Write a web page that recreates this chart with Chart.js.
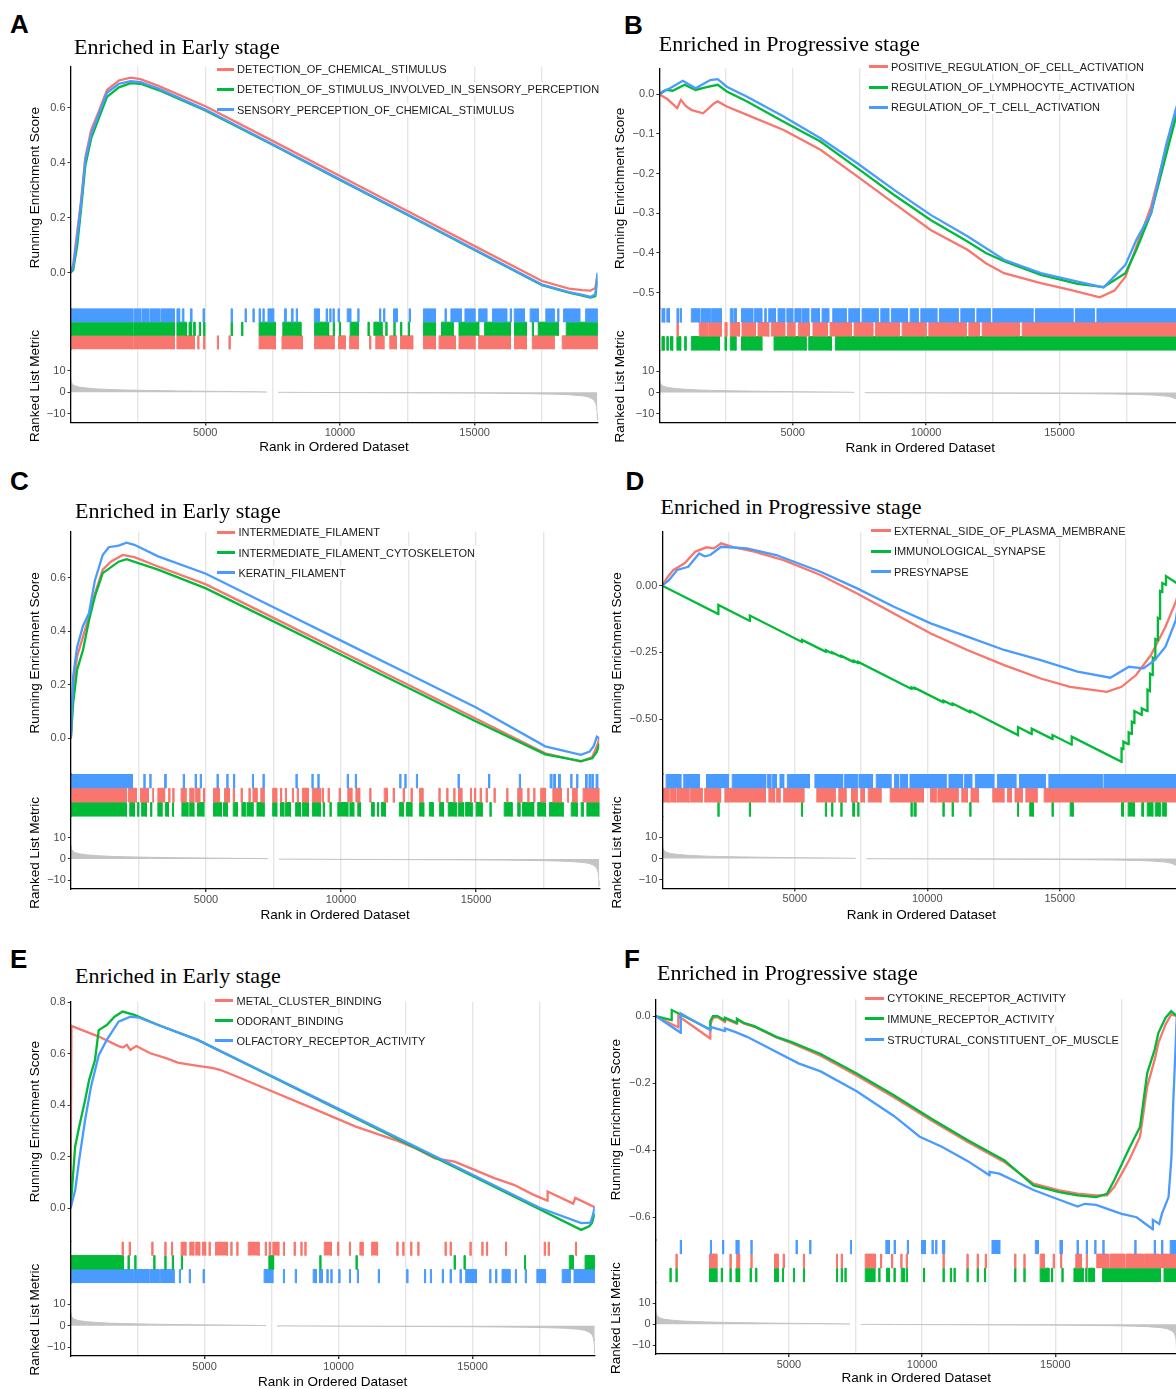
<!DOCTYPE html>
<html><head><meta charset="utf-8">
<script src="https://cdn.jsdelivr.net/npm/chart.js@4.4.1/dist/chart.umd.min.js"></script>
<style>
html,body{margin:0;padding:0;background:#fff;}
body{width:1176px;height:1389px;overflow:hidden;position:relative;font-family:"Liberation Sans",Arial,sans-serif;}
canvas{position:absolute;z-index:1;}
.letter{position:absolute;font-weight:bold;font-size:26px;line-height:26px;color:#000;z-index:2;}
.title{position:absolute;font-family:"Liberation Serif","Times New Roman",serif;font-size:22px;line-height:22px;color:#000;white-space:nowrap;z-index:2;}
.legtxt{position:absolute;font-size:11px;line-height:14px;height:14px;color:#1a1a1a;white-space:nowrap;z-index:3;background:#fff;padding-right:2px;}
.legkey{position:absolute;height:3px;z-index:3;}
</style></head><body>
<script>
// ---------- shared data ----------
const N_GENES = 19560;
const xTickValues = [5000, 10000, 15000];
const xTickLabels = ['5000', '10000', '15000'];
const xGridValues = [2500, 5000, 7500, 10000, 12500, 15000, 17500];
const metricTicks = [-10, 0, 10];
const metricTickLabels = ['\u221210', '0', '10'];
const metricRank  = [0, 30, 80, 150, 300, 600, 1000, 1500, 2000, 3000, 4000, 5000, 6000, 7000, 7300, 7400, 7650, 7700, 9000, 11000, 13000, 15000, 16000, 17000, 18000, 18500, 19000, 19200, 19350, 19450, 19500, 19530, 19550, 19560];
const metricValue = [6.5, 4.5, 3.6, 3.0, 2.4, 1.9, 1.5, 1.2, 1.0, 0.75, 0.55, 0.42, 0.3, 0.15, 0.06, null, null, -0.08, -0.15, -0.25, -0.35, -0.45, -0.55, -0.7, -0.95, -1.2, -1.7, -2.2, -3, -4, -5.5, -7, -10, -13];
const setColors = ['#F8766D', '#00BA38', '#4A9BFF'];

// ---------- panel A ----------
const namesA = ['DETECTION_OF_CHEMICAL_STIMULUS', 'DETECTION_OF_STIMULUS_INVOLVED_IN_SENSORY_PERCEPTION', 'SENSORY_PERCEPTION_OF_CHEMICAL_STIMULUS'];
const esTicksA = [0, 0.2, 0.4, 0.6];
const esLabelsA = ['0.0', '0.2', '0.4', '0.6'];
const esA1 = [[0,0],[100,0.03],[250,0.15],[400,0.27],[550,0.42],[770,0.52],[1060,0.59],[1355,0.665],[1795,0.70],[2236,0.71],[2600,0.705],[3264,0.68],[5025,0.605],[7500,0.48],[10000,0.352],[12500,0.225],[15000,0.097],[17500,-0.03],[18500,-0.058],[19000,-0.063],[19300,-0.065],[19480,-0.055],[19560,-0.01]];
const esA2 = [[0,0],[100,0.01],[250,0.1],[400,0.24],[550,0.39],[770,0.49],[1060,0.565],[1355,0.64],[1795,0.675],[2236,0.69],[2600,0.688],[3264,0.665],[5025,0.59],[7500,0.466],[10000,0.338],[12500,0.211],[15000,0.083],[17500,-0.045],[18500,-0.072],[19000,-0.083],[19300,-0.09],[19480,-0.085],[19560,-0.03]];
const esA3 = [[0,0],[100,0.02],[250,0.13],[400,0.26],[550,0.41],[770,0.505],[1060,0.58],[1355,0.655],[1795,0.688],[2236,0.697],[2600,0.694],[3264,0.67],[5025,0.593],[7500,0.468],[10000,0.34],[12500,0.213],[15000,0.085],[17500,-0.043],[18500,-0.07],[19000,-0.08],[19300,-0.088],[19480,-0.078],[19560,0.0]];
const hitsA1 = [[0,2310],[2350,3850],[3950,4600],[4720,4760],[4940,4980],[5450,5490],[5880,5920],[7000,7600],[7850,8600],[9060,9780],[9950,10200],[10360,10680],[11100,11140],[11330,11630],[11850,12100],[12250,12700],[13100,13540],[13680,14280],[14420,15010],[15150,16330],[16480,16920],[17140,17950],[18250,19560]];
const hitsA2 = [[0,2310],[2350,3850],[3950,4300],[4400,4480],[4560,4620],[4780,4820],[4940,4980],[5960,6000],[6350,6390],[7000,7600],[7880,8550],[9060,9580],[9750,9790],[9980,10020],[10380,10680],[11040,11080],[11260,11560],[11700,11740],[12000,12040],[12250,12290],[12540,12580],[13100,13540],[13770,14200],[14420,15150],[15370,16330],[16480,16920],[17140,17180],[17360,18100],[18400,19560]];
const hitsA3 = [[0,2310],[2360,2600],[2650,2900],[2950,3300],[3350,3850],[3950,4050],[4150,4200],[4450,4500],[4920,4970],[5960,6000],[6480,6520],[6770,6810],[7000,7040],[7140,7180],[7330,7540],[7940,8000],[8200,8250],[8380,8420],[9050,9230],[9490,9530],[9620,9660],[9740,9780],[9930,9970],[10270,10400],[10660,10700],[11470,11510],[11620,11660],[11990,12130],[12570,12610],[13100,13540],[13900,13940],[14120,14500],[14640,15010],[15150,15450],[15660,16190],[16320,16360],[16470,16850],[17060,17360],[17640,17950],[18080,18120],[18300,18900],[19120,19560]];

// ---------- panel B ----------
const namesB = ['POSITIVE_REGULATION_OF_CELL_ACTIVATION', 'REGULATION_OF_LYMPHOCYTE_ACTIVATION', 'REGULATION_OF_T_CELL_ACTIVATION'];
const esTicksB = [-0.5, -0.4, -0.3, -0.2, -0.1, 0];
const esLabelsB = ['\u22120.5', '\u22120.4', '\u22120.3', '\u22120.2', '\u22120.1', '0.0'];
const esB1 = [[0,0],[300,-0.012],[670,-0.035],[810,-0.014],[1000,-0.03],[1220,-0.04],[1640,-0.048],[2050,-0.023],[2190,-0.018],[2530,-0.031],[3290,-0.052],[4660,-0.09],[6040,-0.14],[7420,-0.207],[8800,-0.275],[10170,-0.342],[11550,-0.392],[12240,-0.426],[12920,-0.451],[14300,-0.476],[15400,-0.493],[16510,-0.512],[17060,-0.495],[17470,-0.46],[17880,-0.384],[18430,-0.283],[18980,-0.14],[19370,-0.04],[19560,0]];
const esB2 = [[0,0],[260,0.011],[500,0.009],[950,0.024],[1360,0.011],[1770,0.018],[2190,0.024],[2530,0.007],[3290,-0.018],[4660,-0.069],[6040,-0.119],[7420,-0.186],[8800,-0.254],[10170,-0.317],[11550,-0.371],[12240,-0.4],[12920,-0.421],[14300,-0.455],[15680,-0.478],[16650,-0.486],[17470,-0.451],[17880,-0.392],[18430,-0.3],[18980,-0.157],[19370,-0.056],[19560,0]];
const esB3 = [[0,0],[120,0.007],[400,0.015],[880,0.034],[1360,0.015],[1910,0.036],[2190,0.038],[2530,0.019],[3290,-0.006],[4660,-0.056],[6040,-0.111],[7420,-0.174],[8800,-0.241],[10170,-0.304],[11550,-0.358],[12920,-0.417],[14300,-0.451],[15680,-0.472],[16650,-0.487],[17470,-0.43],[17880,-0.367],[18430,-0.3],[18980,-0.132],[19370,-0.035],[19560,0]];
const hitsB1 = [[660,720],[1500,1800],[1850,2320],[2460,2530],[2660,3000],[3100,3600],[3700,4100],[4200,4700],[4800,5080],[5210,5620],[5760,6300],[6400,7200],[7300,8000],[8100,9000],[9100,10000],[10100,11500],[11600,12000],[12100,13500],[13600,19560]];
const hitsB2 = [[100,180],[280,330],[420,500],[660,800],[950,1000],[1200,2250],[2460,2520],[2660,2870],[3080,3840],[4300,5500],[5600,6450],[6600,19560]];
const hitsB3 = [[100,200],[280,380],[660,720],[780,820],[1200,1500],[1560,1900],[1950,2320],[2660,2750],[2800,2880],[3080,3500],[3560,3840],[3950,4000],[4100,4350],[4450,4700],[4780,5000],[5080,5300],[5350,5600],[5700,6000],[6100,6350],[6500,7000],[7100,7500],[7600,8200],[8300,8600],[8700,9300],[9400,9700],[9800,10400],[10500,11200],[11300,11800],[11900,12400],[12500,14000],[14100,15500],[15600,16300],[16400,19560]];

// ---------- panel C ----------
const namesC = ['INTERMEDIATE_FILAMENT', 'INTERMEDIATE_FILAMENT_CYTOSKELETON', 'KERATIN_FILAMENT'];
const esTicksC = [0, 0.2, 0.4, 0.6];
const esLabelsC = ['0.0', '0.2', '0.4', '0.6'];
const esC1 = [[0,0],[85,0.19],[230,0.305],[450,0.38],[670,0.455],[890,0.54],[1180,0.63],[1480,0.66],[1920,0.685],[2350,0.677],[3230,0.642],[5000,0.575],[7500,0.45],[10000,0.324],[12500,0.199],[15000,0.073],[17560,-0.056],[18880,-0.087],[19300,-0.07],[19470,-0.03],[19560,0.0]];
const esC2 = [[0,0],[85,0.13],[230,0.255],[450,0.33],[670,0.44],[890,0.53],[1180,0.617],[1770,0.66],[2060,0.669],[3230,0.63],[5000,0.56],[7500,0.437],[10000,0.312],[12500,0.188],[15000,0.063],[17560,-0.06],[18880,-0.085],[19300,-0.075],[19470,-0.05],[19560,-0.02]];
const esC3 = [[0,0],[85,0.23],[230,0.34],[450,0.42],[670,0.467],[890,0.59],[1180,0.685],[1400,0.714],[1770,0.72],[2060,0.731],[2350,0.723],[3230,0.68],[5000,0.615],[7500,0.49],[10000,0.365],[12500,0.24],[15000,0.115],[17560,-0.03],[18880,-0.062],[19200,-0.05],[19350,-0.03],[19470,0.006],[19560,0.0]];
const hitsC1 = [[0,2060],[2130,2430],[2580,2870],[3030,3060],[3220,3470],[3620,3660],[3770,3810],[4080,4260],[4400,4550],[4620,4770],[4910,4950],[5280,5500],[5690,5870],[6010,6050],[6300,6340],[6590,6630],[6740,6890],[7030,7150],[7470,7620],[7760,7800],[7940,7980],[8200,8240],[8380,8420],[8570,8790],[8940,9230],[9300,9340],[9520,9560],[9930,9970],[10250,10400],[10550,10690],[11060,11100],[11600,11720],[11930,11970],[12300,12340],[12590,12630],[12910,13030],[13620,13660],[13910,13950],[14170,14210],[14350,14470],[14790,14830],[14940,14980],[15150,15190],[15370,15410],[15660,15700],[16130,16170],[16540,16690],[16910,16950],[17130,17170],[17390,17570],[17840,18160],[18380,18420],[18570,18730],[18960,19560]];
const hitsC2 = [[0,2060],[2180,2350],[2470,2510],[2620,2800],[2950,2990],[3220,3370],[3500,3610],[3760,3800],[4110,4330],[4400,4550],[4690,4920],[5280,5570],[5650,5790],[6010,6160],[6330,6450],[6520,6740],[6890,7150],[7470,7620],[7760,7880],[7940,8130],[8320,8500],[8570,8790],[8940,9230],[9340,9380],[9590,9630],[9880,10250],[10330,10470],[10620,10720],[11130,11220],[11350,11390],[11500,11640],[12160,12300],[12420,12620],[12910,13060],[13270,13410],[13650,13790],[13970,14260],[14340,14530],[14600,14850],[15000,15220],[15510,15550],[16040,16330],[16540,16620],[16720,17130],[17280,17570],[17720,18220],[18520,18740],[18890,18960],[19100,19560]];
const hitsC3 = [[0,2280],[2700,2740],[2920,2960],[3470,3520],[4160,4200],[4600,4640],[4790,4830],[5410,5450],[5770,5810],[6020,6060],[6720,6760],[7110,7150],[8330,8370],[8920,8960],[9140,9180],[10230,10270],[10530,10570],[12170,12210],[12360,12400],[12790,12830],[14330,14370],[15460,15500],[16600,16640],[17740,17800],[17870,17930],[18050,18110],[18500,18540],[18720,18760],[19050,19100],[19180,19220],[19280,19330],[19440,19500]];

// ---------- panel D ----------
const namesD = ['EXTERNAL_SIDE_OF_PLASMA_MEMBRANE', 'IMMUNOLOGICAL_SYNAPSE', 'PRESYNAPSE'];
const esTicksD = [-0.5, -0.25, 0];
const esLabelsD = ['\u22120.50', '\u22120.25', '0.00'];
const esD1 = [[0,0],[210,0.034],[420,0.059],[840,0.084],[1250,0.128],[1670,0.144],[1950,0.14],[2220,0.159],[2640,0.146],[3470,0.128],[4580,0.096],[5970,0.04],[7350,-0.029],[8740,-0.104],[10130,-0.179],[11510,-0.241],[12900,-0.298],[14280,-0.348],[15390,-0.379],[16780,-0.398],[17330,-0.379],[17880,-0.335],[18440,-0.26],[18990,-0.154],[19380,-0.06],[19560,0]];
const esD2 = [[0,0],[2115,-0.106],[2116,-0.072],[3304,-0.132],[3305,-0.112],[5272,-0.211],[5273,-0.203],[6173,-0.248],[6174,-0.242],[6409,-0.254],[6410,-0.25],[6755,-0.267],[6756,-0.263],[7220,-0.286],[7221,-0.281],[7393,-0.29],[7394,-0.286],[9403,-0.387],[9404,-0.381],[9530,-0.387],[9531,-0.383],[10609,-0.437],[10610,-0.431],[10956,-0.448],[10957,-0.442],[11621,-0.475],[11622,-0.469],[13423,-0.56],[13424,-0.53],[13940,-0.556],[13941,-0.536],[14726,-0.575],[14727,-0.56],[15450,-0.596],[15451,-0.566],[17331,-0.66],[17332,-0.61],[17400,-0.613],[17401,-0.585],[17580,-0.594],[17600,-0.55],[17700,-0.555],[17720,-0.51],[17816,-0.515],[17817,-0.47],[18093,-0.484],[18094,-0.46],[18300,-0.47],[18310,-0.39],[18400,-0.395],[18410,-0.33],[18508,-0.335],[18509,-0.27],[18605,-0.275],[18606,-0.2],[18700,-0.205],[18701,-0.12],[18785,-0.124],[18786,-0.02],[18869,-0.024],[18870,0.01],[19008,0.003],[19009,0.036],[19560,0.0]];
const esD3 = [[0,0],[250,0.021],[560,0.059],[980,0.071],[1390,0.121],[1600,0.11],[1810,0.115],[2220,0.146],[3190,0.14],[4300,0.115],[5970,0.0525],[7350,-0.01],[8740,-0.079],[10130,-0.141],[11510,-0.191],[12900,-0.241],[14280,-0.279],[15670,-0.3225],[16910,-0.345],[17610,-0.304],[18160,-0.31],[18580,-0.279],[18990,-0.229],[19380,-0.129],[19560,0]];
const hitsD1 = [[0,250],[300,500],[550,1000],[1050,1500],[1600,2200],[2360,3890],[4020,4230],[4300,4440],[4580,5340],[5830,6520],[6660,6930],[7140,7350],[7490,7630],[7770,8250],[8600,9850],[10120,10330],[10400,11160],[11300,11510],[11650,11930],[12470,12890],[13030,13170],[13310,13580],[13720,14140],[14410,19560]];
const hitsD2 = [[2095,2135],[3284,3324],[5252,5292],[6153,6193],[6389,6429],[6735,6775],[7185,7254],[7373,7413],[9383,9423],[9500,9569],[10589,10629],[10936,10976],[11601,11641],[13403,13443],[13867,14006],[14706,14746],[15391,15502],[17331,17400],[17580,17816],[18093,18162],[18300,18508],[18605,18785],[18869,19008]];
const hitsD3 = [[144,699],[809,1392],[1669,2500],[2639,3886],[3956,4095],[4164,4303],[4441,4580],[4719,5550],[5758,6797],[6867,7352],[7421,7934],[8073,8627],[8766,8904],[8974,9251],[9348,10706],[10817,11330],[11399,11677],[11815,12508],[12647,13340],[13479,14449],[14588,16597],[16667,19560]];

// ---------- panel E ----------
const namesE = ['METAL_CLUSTER_BINDING', 'ODORANT_BINDING', 'OLFACTORY_RECEPTOR_ACTIVITY'];
const esTicksE = [0, 0.2, 0.4, 0.6, 0.8];
const esLabelsE = ['0.0', '0.2', '0.4', '0.6', '0.8'];
const esE1 = [[0,0],[30,0.708],[1050,0.667],[1790,0.63],[1950,0.625],[2100,0.635],[2230,0.615],[2450,0.63],[2970,0.602],[3560,0.583],[4000,0.566],[4740,0.553],[5330,0.544],[5600,0.537],[6220,0.511],[7690,0.447],[9170,0.382],[10640,0.317],[12120,0.265],[12860,0.233],[13600,0.194],[14330,0.181],[15070,0.149],[15810,0.117],[16540,0.091],[17280,0.052],[17790,0.03],[17800,0.065],[18754,0.018],[18830,0.04],[19560,0.004]];
const esE2 = [[0,0],[170,0.24],[320,0.317],[540,0.42],[690,0.498],[910,0.576],[1050,0.692],[1350,0.712],[1640,0.744],[1940,0.764],[2380,0.751],[3270,0.712],[4740,0.654],[7500,0.512],[10000,0.383],[12500,0.254],[15000,0.125],[17500,-0.004],[19050,-0.084],[19350,-0.07],[19450,-0.058],[19560,-0.02]];
const esE3 = [[0,0],[170,0.07],[320,0.188],[540,0.343],[760,0.472],[1050,0.595],[1350,0.654],[1790,0.725],[2230,0.744],[2520,0.742],[3270,0.712],[4740,0.654],[7500,0.514],[10000,0.386],[12500,0.258],[15000,0.13],[17500,0.002],[19050,-0.058],[19400,-0.056],[19480,-0.03],[19560,0.006]];
const hitsE1 = [[1920,1960],[2185,2225],[3026,3066],[3513,3553],[3764,3804],[4123,4300],[4447,4594],[4668,4816],[4919,5038],[5164,5204],[5406,5849],[5976,6016],[6198,6238],[6631,7030],[7261,7301],[7409,7449],[7547,7768],[7940,7980],[8338,8378],[8589,8629],[8737,8777],[9465,9731],[9962,10002],[10404,10444],[10793,10911],[11232,11453],[12170,12210],[12392,12432],[12687,12727],[12952,12992],[13970,14010],[14161,14201],[14899,14939],[15341,15381],[15518,15558],[16226,16266],[17672,17712],[17820,17860],[18837,18877]];
const hitsE2 = [[0,1970],[2141,2181],[2392,2432],[3100,3140],[3513,3553],[3793,3833],[4132,4172],[7397,7574],[9295,9335],[10647,10687],[14310,14350],[14678,14718],[16935,16975],[18607,18754],[19197,19560]];
const hitsE3 = [[0,2310],[2350,2900],[2950,3300],[3350,3860],[4058,4098],[4427,4467],[4943,4983],[7220,7545],[7940,7980],[8382,8422],[9051,9169],[9287,9390],[9561,9601],[9709,9749],[10004,10044],[10404,10444],[10699,10739],[11480,11520],[12540,12580],[13204,13244],[13425,13465],[13868,13908],[14161,14201],[14530,14570],[14742,15140],[15636,15676],[15858,15898],[16099,16394],[16595,16635],[16964,17004],[17397,17722],[18342,18637],[18784,19560]];

// ---------- panel F ----------
const namesF = ['CYTOKINE_RECEPTOR_ACTIVITY', 'IMMUNE_RECEPTOR_ACTIVITY', 'STRUCTURAL_CONSTITUENT_OF_MUSCLE'];
const esTicksF = [-0.6, -0.4, -0.2, 0];
const esLabelsF = ['\u22120.6', '\u22120.4', '\u22120.2', '0.0'];
const esF1 = [[0,0],[850,-0.034],[851,0.0],[2050,-0.067],[2051,-0.025],[2150,-0.005],[2320,-0.003],[2600,-0.018],[2601,-0.008],[3050,-0.023],[3051,-0.01],[3300,-0.022],[3700,-0.032],[4530,-0.064],[5080,-0.08],[6190,-0.118],[7560,-0.178],[8940,-0.242],[10320,-0.31],[11700,-0.375],[13080,-0.435],[14180,-0.5],[15150,-0.52],[15840,-0.53],[16530,-0.535],[16940,-0.535],[17210,-0.51],[17770,-0.43],[18180,-0.36],[18450,-0.21],[18730,-0.13],[18870,-0.08],[19140,-0.025],[19350,0.005],[19560,0]];
const esF2 = [[0,0],[600,-0.012],[601,0.018],[2050,-0.04],[2051,-0.015],[2150,0.0],[2320,0.0],[2600,-0.013],[2601,-0.005],[3050,-0.02],[3051,-0.008],[3300,-0.02],[3700,-0.03],[4530,-0.062],[5080,-0.077],[6190,-0.113],[7560,-0.172],[8940,-0.236],[10320,-0.305],[11700,-0.37],[13080,-0.43],[14180,-0.505],[15150,-0.525],[15840,-0.535],[16530,-0.54],[16940,-0.53],[17210,-0.49],[17770,-0.395],[18180,-0.33],[18450,-0.17],[18730,-0.1],[18870,-0.05],[19140,-0.005],[19350,0.015],[19560,0]];
const esF3 = [[0,0],[940,-0.05],[941,0.008],[2050,-0.042],[2051,-0.032],[2600,-0.045],[2601,-0.037],[3000,-0.048],[3430,-0.062],[5360,-0.141],[6190,-0.165],[7560,-0.225],[8940,-0.298],[9910,-0.36],[10740,-0.39],[11700,-0.432],[12530,-0.475],[12531,-0.465],[12900,-0.47],[14180,-0.519],[15150,-0.548],[15840,-0.568],[16100,-0.56],[16530,-0.563],[17490,-0.59],[18050,-0.6],[18660,-0.636],[18661,-0.608],[18900,-0.62],[19010,-0.588],[19250,-0.54],[19360,-0.42],[19430,-0.25],[19500,-0.12],[19560,0]];
const hitsF1 = [[758,798],[2019,2295],[2785,2825],[3039,3150],[3571,3611],[4460,4598],[4784,4824],[5543,5583],[6784,6824],[6963,7003],[7865,8252],[8438,8478],[8852,8892],[9197,9237],[9404,9444],[10783,10823],[11680,11720],[12066,12106],[12369,12409],[13472,13512],[13817,13857],[14430,14595],[14920,14960],[15196,15236],[15768,15975],[16161,16201],[16554,17000],[17050,17600],[17650,18300],[18350,18900],[18950,19560]];
const hitsF2 = [[533,573],[758,798],[2019,2295],[2460,2500],[2785,2825],[3012,3150],[3543,3583],[3750,3790],[4460,4598],[4757,4797],[5170,5210],[5543,5583],[6784,6824],[6963,7003],[7100,7140],[7865,8224],[8370,8410],[8666,8776],[8942,8982],[9217,9327],[9404,9444],[10051,10091],[10783,10823],[11058,11098],[11196,11236],[11680,11720],[12066,12106],[12341,12381],[13472,13512],[13817,13857],[14430,14760],[14857,14897],[15244,15284],[15699,16043],[16140,16180],[16250,16460],[16774,18940],[19080,19560]];
const hitsF3 = [[923,963],[2054,2094],[2509,2549],[3012,3122],[3571,3611],[5267,5307],[5778,5818],[7308,7348],[8638,8776],[8949,8989],[9445,9485],[9976,10127],[10369,10409],[10507,10547],[10762,10844],[12623,12913],[14250,14360],[15174,15257],[15816,15856],[16161,16201],[16478,16518],[16781,16821],[17981,18021],[18712,18752],[18988,19028],[19311,19560]];

// ---------- layout of the six panels ----------
const panels = [
  {letter:'A', letterPos:[10,14], title:'Enriched in Early stage', titlePos:[74,54],
   legend:{key:216.7, text:237, rows:[69.3,89.3,110]}, names:namesA, es:[esA1,esA2,esA3], hits:[hitsA1,hitsA2,hitsA3], rugOrder:[2,1,0],
   esTicks:esTicksA, esLabels:esLabelsA, esMin:-0.13, esMax:0.75,
   left:70.5, right:597.5, top:66.7, esBottom:308.5, rugBottom:349.5, axisY:422.5, yTitleOff:35.6, xTitleY:447.5},
  {letter:'B', letterPos:[624,15], title:'Enriched in Progressive stage', titlePos:[658.8,51.7],
   legend:{key:868.9, text:891, rows:[66.7,87.3,107.3]}, names:namesB, es:[esB1,esB2,esB3], hits:[hitsB1,hitsB2,hitsB3], rugOrder:[2,0,1],
   esTicks:esTicksB, esLabels:esLabelsB, esMin:-0.5395, esMax:0.0655,
   left:659.3, right:1181.2, top:68.3, esBottom:308.3, rugBottom:350.7, axisY:422.3, yTitleOff:39, xTitleY:448.3},
  {letter:'C', letterPos:[10,471], title:'Enriched in Early stage', titlePos:[75,518.3],
   legend:{key:216.7, text:238.4, rows:[532.3,552.7,572.7]}, names:namesC, es:[esC1,esC2,esC3], hits:[hitsC1,hitsC2,hitsC3], rugOrder:[2,0,1],
   esTicks:esTicksC, esLabels:esLabelsC, esMin:-0.1335, esMax:0.772,
   left:70.85, right:599.3, top:531.7, esBottom:774, rugBottom:816.7, axisY:889, yTitleOff:36, xTitleY:915.3},
  {letter:'D', letterPos:[625.5,471], title:'Enriched in Progressive stage', titlePos:[660.6,514],
   legend:{key:871, text:893.9, rows:[531,551.3,571.7]}, names:namesD, es:[esD1,esD2,esD3], hits:[hitsD1,hitsD2,hitsD3], rugOrder:[2,0,1],
   esTicks:esTicksD, esLabels:esLabelsD, esMin:-0.706, esMax:0.2025,
   left:662.3, right:1180.6, top:531.7, esBottom:774, rugBottom:816.7, axisY:888.3, yTitleOff:44.7, xTitleY:915},
  {letter:'E', letterPos:[10,949], title:'Enriched in Early stage', titlePos:[75,983.3],
   legend:{key:214.7, text:236.5, rows:[1000.7,1020.7,1040.7]}, names:namesE, es:[esE1,esE2,esE3], hits:[hitsE1,hitsE2,hitsE3], rugOrder:[0,1,2],
   esTicks:esTicksE, esLabels:esLabelsE, esMin:-0.13, esMax:0.8025,
   left:70.6, right:594.8, top:1001.7, esBottom:1241.7, rugBottom:1283.3, axisY:1356, yTitleOff:35.8, xTitleY:1382.7},
  {letter:'F', letterPos:[624,949], title:'Enriched in Progressive stage', titlePos:[657,980.7],
   legend:{key:865.2, text:887.3, rows:[998.3,1019,1039.7]}, names:namesF, es:[esF1,esF2,esF3], hits:[hitsF1,hitsF2,hitsF3], rugOrder:[2,0,1],
   esTicks:esTicksF, esLabels:esLabelsF, esMin:-0.668, esMax:0.05,
   left:655.7, right:1176.8, top:999.3, esBottom:1240, rugBottom:1282.3, axisY:1354, yTitleOff:39.2, xTitleY:1378.3}
];

Chart.defaults.font.family = '"Liberation Sans", Arial, sans-serif';
const WY = 56, PT = 12, PR = 6, PB = 2, TITLE_FS = 13.5, TICK_FS = 11;
const TITLE_HALF = TITLE_FS * 1.2 / 2;
const GRAY_TXT = '#4D4D4D';

function rugPoints(hits, row) {
  const lo = 2 - row, hi = 3 - row, pts = [];
  hits.forEach(([s, e]) => {
    pts.push({x:s, y:lo}, {x:s, y:hi}, {x:e, y:hi}, {x:e, y:lo}, {x:e, y:null});
  });
  return pts;
}

function addDiv(cls, text, left, top) {
  const d = document.createElement('div');
  d.className = cls; d.textContent = text;
  d.style.left = left + 'px'; d.style.top = top + 'px';
  document.body.appendChild(d);
  return d;
}

panels.forEach(p => {
  addDiv('letter', p.letter, p.letterPos[0], p.letterPos[1] - 3.4);
  addDiv('title', p.title, p.titlePos[0], p.titlePos[1] - 18.4);
  p.names.forEach((n, i) => {
    const k = document.createElement('div');
    k.className = 'legkey';
    k.style.left = p.legend.key + 'px';
    k.style.top = (p.legend.rows[i] - 1.6) + 'px';
    k.style.width = (p.legend.text - p.legend.key - 3) + 'px';
    k.style.background = setColors[i];
    document.body.appendChild(k);
    addDiv('legtxt', n, p.legend.text, p.legend.rows[i] - 7);
  });

  const hx = p.xTitleY + TITLE_HALF - p.axisY;
  const cl = Math.floor(p.left - WY), ct = Math.floor(p.top - PT);
  const cw = Math.ceil(p.right + PR - cl), ch = Math.ceil(p.axisY + hx + PB - ct);
  const pad = {left: p.left - WY - cl, top: p.top - ct, right: cl + cw - p.right, bottom: ct + ch - p.axisY - hx};
  const tp = WY - p.yTitleOff - TITLE_HALF;
  const cv = document.createElement('canvas');
  cv.width = cw; cv.height = ch;
  cv.style.left = cl + 'px'; cv.style.top = ct + 'px';
  cv.style.width = cw + 'px'; cv.style.height = ch + 'px';
  document.body.appendChild(cv);

  const datasets = [];
  datasets.push({data: metricRank.map((r, i) => ({x:r, y:metricValue[i]})), yAxisID:'yM', xAxisID:'x',
    borderColor:'#C4C4C4', backgroundColor:'#C4C4C4', borderWidth:1, fill:'origin', pointRadius:0, order:10});
  p.rugOrder.forEach((setIdx, row) => {
    datasets.push({data: rugPoints(p.hits[setIdx], row), yAxisID:'yR', xAxisID:'x',
      borderColor:setColors[setIdx], backgroundColor:setColors[setIdx], borderWidth:1,
      fill:{value: 2 - row}, pointRadius:0, order:5 + row});
  });
  p.es.forEach((arr, i) => {
    datasets.push({data: arr.map(([r, v]) => ({x:r, y:v})), yAxisID:'yE', xAxisID:'x',
      borderColor:setColors[i], borderWidth:2.3, fill:false, pointRadius:0, order:2 - i});
  });

  const leftAxis = (extra) => Object.assign({
    type:'linear', position:'left', stack:'gsea',
    border:{display:true, color:'#000', width:1.3, z:1},
    grid:{drawOnChartArea:false, drawTicks:true, tickLength:3, tickColor:'#333', lineWidth:1},
    afterFit: s => { s.width = WY; }
  }, extra);

  new Chart(cv, {
    type:'line',
    data:{datasets},
    options:{
      responsive:false, animation:false, events:[],
      layout:{padding:pad},
      plugins:{legend:{display:false}, tooltip:{enabled:false}},
      elements:{point:{radius:0}, line:{tension:0}},
      scales:{
        x:{type:'linear', position:'bottom', min:0, max:N_GENES,
          afterBuildTicks: s => { s.ticks = xGridValues.map(v => ({value:v})); },
          grid:{color:'#E6E6E6', lineWidth:1.4, drawTicks:true, tickLength:3,
            tickColor: c => (c.tick && xTickValues.includes(c.tick.value)) ? '#333' : 'rgba(0,0,0,0)'},
          border:{display:true, color:'#000', width:1.3, z:1},
          ticks:{autoSkip:false, maxRotation:0, color:GRAY_TXT, font:{size:TICK_FS}, padding:1,
            callback: v => { const i = xTickValues.indexOf(v); return i >= 0 ? xTickLabels[i] : ''; }},
          title:{display:true, text:'Rank in Ordered Dataset', color:'#000', font:{size:TITLE_FS}, padding:0},
          afterFit: s => { s.height = hx; }
        },
        yM: leftAxis({min:-14.1, max:19.8, stackWeight: p.axisY - p.rugBottom,
          afterBuildTicks: s => { s.ticks = metricTicks.map(v => ({value:v})); },
          ticks:{color:GRAY_TXT, font:{size:TICK_FS}, padding:2,
            callback: v => metricTickLabels[metricTicks.indexOf(v)]},
          title:{display:true, text:'Ranked List Metric', color:'#000', font:{size:TITLE_FS}, padding:{top:tp, bottom:0}}
        }),
        yR: leftAxis({min:0, max:3, stackWeight: p.rugBottom - p.esBottom,
          ticks:{display:false}, grid:{display:false}, title:{display:false}
        }),
        yE: leftAxis({min:p.esMin, max:p.esMax, stackWeight: p.esBottom - p.top,
          afterBuildTicks: s => { s.ticks = p.esTicks.map(v => ({value:v})); },
          ticks:{color:GRAY_TXT, font:{size:TICK_FS}, padding:2,
            callback: v => p.esLabels[p.esTicks.indexOf(v)]},
          title:{display:true, text:'Running Enrichment Score', color:'#000', font:{size:TITLE_FS}, padding:{top:tp, bottom:0}}
        })
      }
    }
  });
});
</script>
</body></html>
